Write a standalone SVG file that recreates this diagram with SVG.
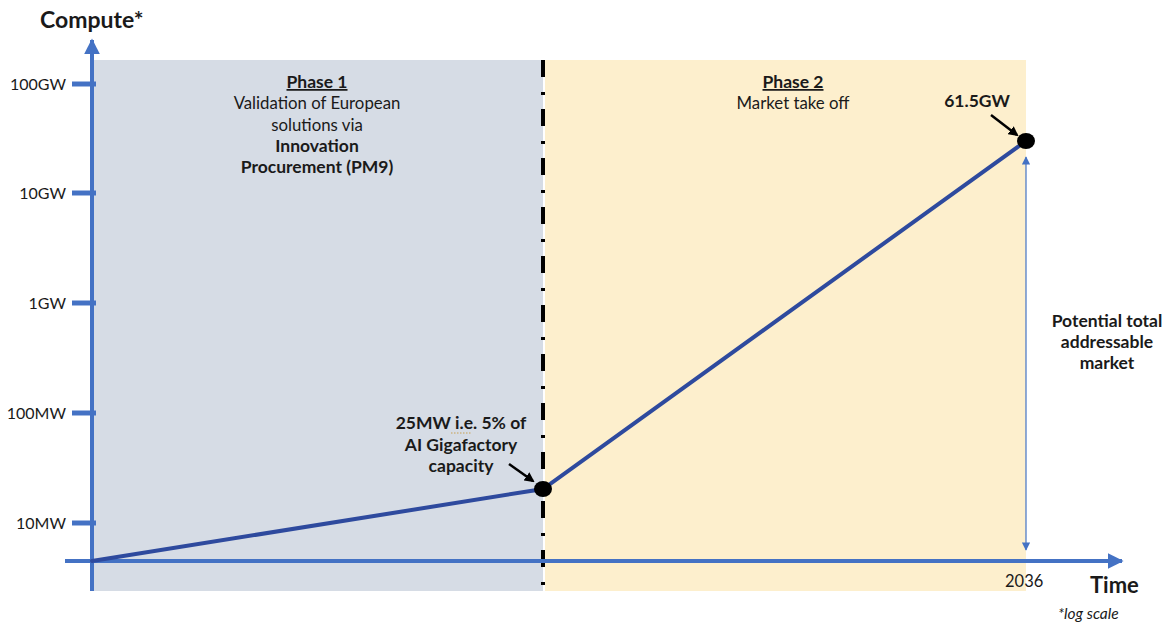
<svg xmlns="http://www.w3.org/2000/svg" width="1176" height="626" viewBox="0 0 1176 626">
  <style>
    text { font-family: "Lato", "Liberation Sans", sans-serif; fill: #1a1a1a; }
    .lbl { font-size: 16.8px; }
    .tick { font-size: 16px; text-anchor: end; }
    .b { font-weight: bold; font-size: 17.5px; }
    .c { text-anchor: middle; }
    .axis { stroke: #4472C4; stroke-width: 4; fill: none; }
    .tk { stroke: #4472C4; stroke-width: 5; }
    .series { stroke: #2E4A9E; stroke-width: 4; fill: none; stroke-linecap: round; }
    .callout { stroke: #000; stroke-width: 2.5; fill: none; marker-end: url(#blk); }
  </style>
  <defs>
    <marker id="axh" viewBox="0 0 10 10" refX="9" refY="5" markerWidth="4" markerHeight="4" markerUnits="strokeWidth" orient="auto">
      <path d="M0,0 L10,5 L0,10 z" fill="#4472C4"/>
    </marker>
    <marker id="thin" viewBox="0 0 10 10" refX="9" refY="5" markerWidth="7" markerHeight="7" markerUnits="strokeWidth" orient="auto-start-reverse">
      <path d="M0,0 L10,5 L0,10 z" fill="#4472C4"/>
    </marker>
    <marker id="blk" viewBox="0 0 10 10" refX="8" refY="5" markerWidth="4" markerHeight="4" markerUnits="strokeWidth" orient="auto">
      <path d="M0,0 L10,5 L0,10 z" fill="#000"/>
    </marker>
  </defs>

  <!-- phase backgrounds -->
  <g id="phase1">
    <rect x="92" y="60" width="451" height="531" fill="#D6DCE5"/>
    <text class="lbl b c" x="317" y="88" text-decoration="underline">Phase 1</text>
    <text class="lbl c" x="317" y="109">Validation of European</text>
    <text class="lbl c" x="317" y="131">solutions via</text>
    <text class="lbl b c" x="317" y="152">Innovation</text>
    <text class="lbl b c" x="317" y="173">Procurement (PM9)</text>
  </g>
  <g id="phase2">
    <rect x="545" y="60" width="481" height="531" fill="#FDEFCD"/>
    <text class="lbl b c" x="793" y="88" text-decoration="underline">Phase 2</text>
    <text class="lbl c" x="793" y="109">Market take off</text>
  </g>

  <!-- phase boundary -->
  <line x1="543" y1="60" x2="543" y2="591" stroke="#000" stroke-width="4" stroke-dasharray="17 15 3 14"/>

  <!-- axes -->
  <g id="axes">
    <line class="axis" x1="92" y1="591" x2="92" y2="40" marker-end="url(#axh)"/>
    <line class="axis" x1="65" y1="561" x2="1122" y2="561" marker-end="url(#axh)"/>
    <line class="tk" x1="72" y1="84" x2="96" y2="84"/>
    <line class="tk" x1="72" y1="193" x2="96" y2="193"/>
    <line class="tk" x1="72" y1="303" x2="96" y2="303"/>
    <line class="tk" x1="72" y1="413" x2="96" y2="413"/>
    <line class="tk" x1="72" y1="523" x2="96" y2="523"/>
    <text class="tick" x="66" y="90">100GW</text>
    <text class="tick" x="66" y="199">10GW</text>
    <text class="tick" x="66" y="309">1GW</text>
    <text class="tick" x="66" y="419">100MW</text>
    <text class="tick" x="66" y="529">10MW</text>
    <text x="40" y="28" font-size="23" font-weight="bold">Compute*</text>
    <text x="1090" y="593" font-size="22" font-weight="bold">Time</text>
    <text x="1058" y="619" font-size="15.5" font-style="italic">*log scale</text>
    <text x="1005" y="587" font-size="16.5">2036</text>
  </g>

  <!-- growth curve -->
  <g id="connectors">
    <polyline class="series" points="92,561 543,489 1026,141"/>
    <line x1="1026" y1="157" x2="1026" y2="550" stroke="#4472C4" stroke-width="1.2" marker-start="url(#thin)" marker-end="url(#thin)"/>
    <line class="callout" x1="509" y1="464" x2="533" y2="481"/>
    <line class="callout" x1="991" y1="115" x2="1017" y2="135"/>
  </g>

  <g id="point-25mw">
    <ellipse cx="543" cy="489" rx="9" ry="8" fill="#000"/>
    <text class="lbl b c" x="461" y="429">25MW i.e. 5% of</text>
    <line x1="451" y1="433" x2="472" y2="433" stroke="#C8A050" stroke-width="1" stroke-dasharray="1.5 1.5"/>
    <text class="lbl b c" x="461" y="451">AI Gigafactory</text>
    <text class="lbl b c" x="461" y="472">capacity</text>
  </g>

  <g id="point-61gw">
    <ellipse cx="1026" cy="141" rx="9" ry="8" fill="#000"/>
    <text class="lbl b c" x="977" y="107">61.5GW</text>
  </g>

  <g id="tam-label">
    <text class="lbl b c" x="1107" y="327">Potential total</text>
    <text class="lbl b c" x="1107" y="348">addressable</text>
    <text class="lbl b c" x="1107" y="369">market</text>
  </g>
</svg>
